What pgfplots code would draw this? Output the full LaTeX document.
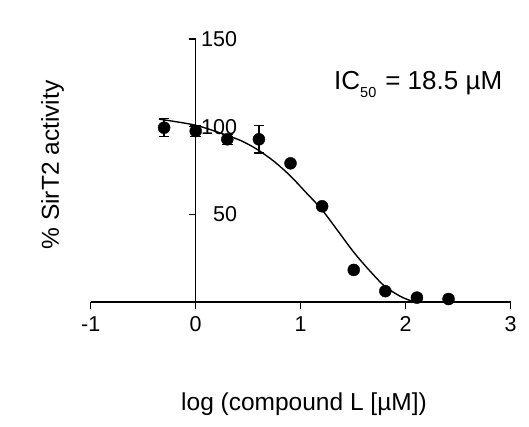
\documentclass[border=0pt]{standalone}
\usepackage{pgfplots}
\pgfplotsset{compat=1.18}
\usepackage{pgfplotstable}
\usepackage{fontspec}
\setmainfont{Liberation Sans}

\pgfplotstableread{
x y e
-0.301 99.4 5.2
0.000 97.5 3.0
0.301 92.8 2.9
0.602 92.8 7.8
0.903 79.1 0
1.204 54.6 0
1.505 18.3 0
1.806 6.2 0
2.107 2.5 0
2.408 1.7 0
}\datatable

\pgfplotstableread{
x y
-0.35 104.3
0.00 100.8
0.30 95.0
0.45 91.5
0.60 86.5
0.75 80.0
0.90 72.0
1.05 62.5
1.20 52.8
1.35 40.9
1.50 28.8
1.65 18.3
1.80 9.0
1.95 3.2
2.06 0.5
}\fittable

\begin{document}
\begin{tikzpicture}
\path[use as bounding box, fill=white] (0,0) rectangle (529pt,-426pt);
\begin{axis}[
  at={(90.7pt,-302pt)}, anchor=south west,
  scale only axis, width=420pt, height=263pt,
  xmin=-1, xmax=3, ymin=0, ymax=150,
  clip=false,
  axis lines=middle,
  axis line style={-, line width=1.3pt, black},
  hide obscured x ticks=false, hide obscured y ticks=false,
  tick align=outside,
  major tick length=7pt,
  tick style={line width=1.3pt, black},
  xtick={-1,0,1,2,3},
  xticklabels={-1,0,1,2,3},
  ytick={50,100,150},
  yticklabels={50,100,150},
  xticklabel style={font=\fontsize{21.5}{25}\selectfont, inner sep=0pt, yshift=-7pt},
  yticklabel style={font=\fontsize{21.5}{25}\selectfont, anchor=east, inner sep=0pt, xshift=48.6pt},
]
\addplot[smooth, line width=1.4pt, black, no marks] table[x=x, y=y] {\fittable};
\addplot[only marks, mark=*, mark size=6pt, black,
  error bars/.cd, y dir=both, y explicit,
  error bar style={line width=1.3pt, black},
  error mark options={rotate=90, mark size=5.3pt, line width=1.3pt, black}]
  table[x=x, y=y, y error=e] {\datatable};
\end{axis}
\node[anchor=base west, inner sep=0pt, font=\fontsize{26}{30}\selectfont] at (334pt,-89.3pt)
  {IC\raisebox{-8pt}{\fontsize{14.5}{16}\selectfont 50}\hspace{9pt}= 18.5 µM};
\node[anchor=base, inner sep=0pt, font=\fontsize{24.5}{29}\selectfont] at (304pt,-410.6pt)
  {log (compound L [µM])};
\node[rotate=90, anchor=center, inner sep=0pt, font=\fontsize{24.5}{29}\selectfont] at (52.5pt,-165pt)
  {\% SirT2 activity};
\end{tikzpicture}
\end{document}
